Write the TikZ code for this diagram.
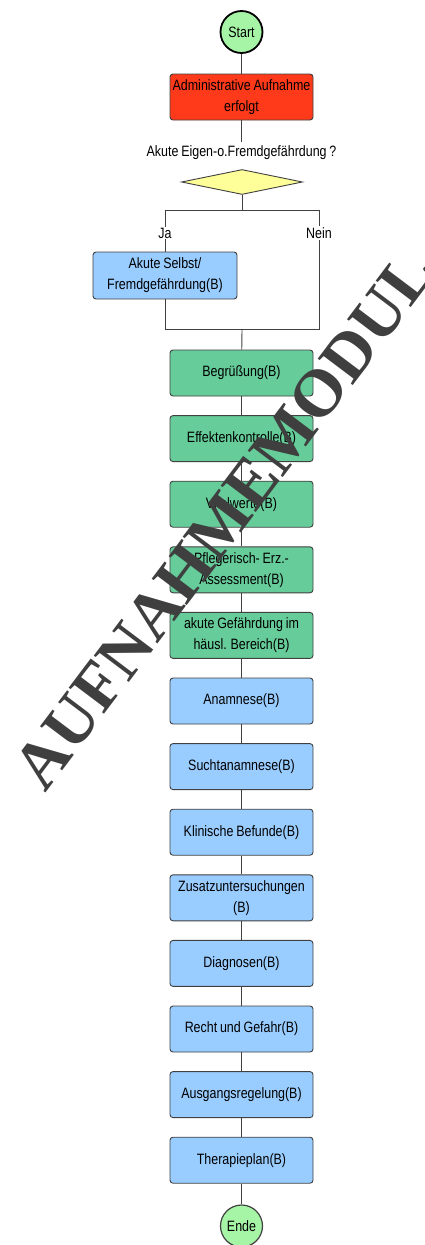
\documentclass[tikz,border=0pt]{standalone}
\usepackage{fontspec}
\setmainfont[FakeStretch=0.83,WordSpace=0.8]{Liberation Sans}
\newfontfamily\wmfont{Liberation Serif}
\usetikzlibrary{shapes.geometric}

\definecolor{redbox}{HTML}{FF3A1A}
\definecolor{greenbox}{HTML}{66CC99}
\definecolor{bluebox}{HTML}{99CCFF}
\definecolor{termfill}{HTML}{A6F5A6}
\definecolor{diafill}{HTML}{FFFF99}
\definecolor{edge}{HTML}{404040}
\definecolor{wmgray}{HTML}{3F3F3F}

\begin{document}
\begin{tikzpicture}[x=1pt,y=-1pt,
  every node/.style={font=\fontsize{15}{21}\selectfont, text=black},
  stepbox/.style={draw=edge, line width=0.9pt, rounded corners=3pt,
    minimum width=143pt, minimum height=46pt, inner sep=0pt,
    align=center},
  greenstep/.style={stepbox, fill=greenbox},
  bluestep/.style={stepbox, fill=bluebox},
  terminal/.style={circle, draw=black, line width=1.8pt, fill=termfill,
    minimum size=42pt, inner sep=0pt},
  decisionbox/.style={diamond, draw=edge, line width=0.9pt, fill=diafill,
    minimum width=121pt, minimum height=25pt, inner sep=0pt},
  conn/.style={draw=edge, line width=0.9pt},
  branchlabel/.style={fill=white, inner sep=1pt},
  watermark/.style={rotate=53, text=wmgray, inner sep=0pt,
    font=\wmfont\bfseries\fontsize{67}{67}\selectfont}
]
\useasboundingbox (0,0) rectangle (424,1245);

% start, admission and decision
\node[terminal] (start) at (241.5,32) {Start};
\node[stepbox, fill=redbox] (admin) at (241.5,97) {Administrative Aufnahme\\erfolgt};
\node (question) at (241.5,153) {Akute Eigen-o.Fremdgefährdung ?};
\node[decisionbox] (decision) at (242,182) {};

\draw[conn] (start) -- (admin);
\draw[conn] (admin) -- (question);

% branches
\coordinate (split) at (242,210);
\coordinate (splitL) at (165,210);
\coordinate (splitR) at (319,210);
\coordinate (joinL) at (165,329);
\coordinate (joinR) at (319,329);
\coordinate (join) at (242,329);
\node[bluestep, minimum width=144pt, minimum height=47pt] (acute) at (165,275.5) {Akute Selbst/\\Fremdgefährdung(B)};

\draw[conn] (decision) -- (split);
\draw[conn] (splitL) -- (splitR);
\draw[conn] (splitL) -- (acute);
\draw[conn] (acute) -- (joinL) -- (joinR) -- (splitR);
\node[branchlabel] (ja) at (165,233) {Ja};
\node[branchlabel] (nein) at (319,233) {Nein};

% main sequence
\node[greenstep] (s1) at (241.5,373) {Begrüßung(B)};
\node[greenstep] (s2) at (241.5,438.6) {Effektenkontrolle(B)};
\node[greenstep] (s3) at (241.5,504.2) {Vitalwerte(B)};
\node[greenstep] (s4) at (241.5,569.8) {Pflegerisch- Erz.-\\Assessment(B)};
\node[greenstep] (s5) at (241.5,635.4) {akute Gefährdung im\\häusl. Bereich(B)};
\node[bluestep] (s6) at (241.5,701) {Anamnese(B)};
\node[bluestep] (s7) at (241.5,766.6) {Suchtanamnese(B)};
\node[bluestep] (s8) at (241.5,832.2) {Klinische Befunde(B)};
\node[bluestep] (s9) at (241.5,897.8) {Zusatzuntersuchungen\\(B)};
\node[bluestep] (s10) at (241.5,963.4) {Diagnosen(B)};
\node[bluestep] (s11) at (241.5,1029) {Recht und Gefahr(B)};
\node[bluestep] (s12) at (241.5,1094.6) {Ausgangsregelung(B)};
\node[bluestep] (s13) at (241.5,1160.2) {Therapieplan(B)};
\node[terminal, line width=1.2pt, draw=edge] (ende) at (241.5,1226) {Ende};

\draw[conn] (join) -- (s1);
\foreach \a/\b in {s1/s2,s2/s3,s3/s4,s4/s5,s5/s6,s6/s7,s7/s8,s8/s9,s9/s10,s10/s11,s11/s12,s12/s13,s13/ende}
  \draw[conn] (\a) -- (\b);

% overlay lettering
\node[watermark] (wm) at (224,520) {AUFNAHMEMODUL};
\end{tikzpicture}
\end{document}
